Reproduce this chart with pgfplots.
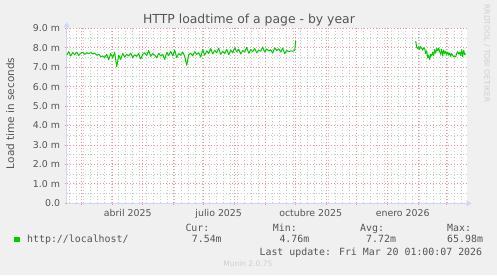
\documentclass[border=0pt]{standalone}
\usepackage{pgfplots}
\pgfplotsset{compat=1.18}
\usepackage{fontspec}
\setmainfont{DejaVu Sans}
\newfontfamily\mono{DejaVu Sans Mono}
\usetikzlibrary{arrows.meta}
\definecolor{bg}{HTML}{F0F0F0}
\definecolor{fontc}{HTML}{555555}
\definecolor{axisc}{HTML}{CFD6F8}
\definecolor{mgrid}{HTML}{E89A9A}
\definecolor{ngrid}{HTML}{C8C8C8}
\definecolor{linec}{HTML}{00CC00}
\definecolor{faint}{HTML}{CFCFCF}
\begin{document}
\begin{tikzpicture}[x=1bp,y=1bp]
\fill[bg] (0,0) rectangle (497,275);
\useasboundingbox (0,0) rectangle (497,275);
\fill[white] (66.7,71.7) rectangle (466.7,246.7);
\begin{axis}[
  at={(66.7bp,71.7bp)}, anchor=south west,
  scale only axis, width=400bp, height=175bp,
  xmin=0, xmax=400, ymin=0, ymax=9,
  axis lines=left,
  axis line style={draw=axisc, line width=1bp},
  x axis line style={-{Triangle[length=5bp,width=6bp]}, shorten >=-5bp},
  y axis line style={-{Triangle[length=5bp,width=6bp]}, shorten >=-6bp},
  tick align=outside,
  xtick={15,46,76,107,137,168,199,229,260,290,321,352,380},
  xticklabels={},
  minor xtick={3,10,...,399},
  ytick={0,1,...,9},
  yticklabels={0.0,1.0 m,2.0 m,3.0 m,4.0 m,5.0 m,6.0 m,7.0 m,8.0 m,9.0 m},
  minor ytick={0.5,1.5,...,8.5},
  grid=both,
  major grid style={draw=mgrid, line width=0.9bp, dash pattern=on 1bp off 2bp},
  minor grid style={draw=ngrid, line width=0.9bp, dash pattern=on 1bp off 2bp},
  major tick length=2bp, minor tick length=0bp,
  every major tick/.style={draw=mgrid, line width=0.9bp},
  tick label style={text=fontc, font=\fontsize{9.4bp}{11bp}\selectfont},
  yticklabel style={anchor=base east, inner sep=0pt, xshift=-4.5bp, yshift=-3.4bp},
  extra x ticks={61,152,244,336},
  extra x tick labels={abril 2025,julio 2025,octubre 2025,enero 2026},
  extra x tick style={grid=none, major tick length=0pt,
    xticklabel style={anchor=base, inner sep=0pt, yshift=-12.7bp}},
]
\addplot[linec, line width=1bp, line join=round, mark=none] coordinates {
(0,7.62)(2,7.80)(4,7.58)(6,7.75)(8,7.64)(10,7.78)(12,7.60)(14,7.72)(16,7.76)(18,7.66)
(20,7.74)(22,7.70)(24,7.76)(26,7.68)(28,7.72)(30,7.62)(32,7.66)(34,7.55)(36,7.58)(38,7.50)
(40,7.66)(42,7.38)(44,7.70)(46,7.48)(48,7.76)(50,7.02)(52,7.62)(54,7.40)(56,7.70)(58,7.52)
(60,7.66)(62,7.58)(64,7.72)(66,7.50)(68,7.64)(70,7.56)(72,7.70)(74,7.42)(76,7.66)(78,7.74)
(80,7.60)(82,7.86)(84,7.56)(86,7.70)(88,7.62)(90,7.48)(92,7.72)(94,7.58)(96,7.66)(98,7.40)
(100,7.76)(102,7.60)(104,7.82)(106,7.58)(108,7.88)(110,7.50)(112,7.70)(114,7.62)(116,7.78)(118,7.56)
(120,7.10)(122,7.64)(124,7.72)(126,7.58)(128,7.80)(130,7.66)(132,7.74)(134,7.52)(136,7.90)(138,7.62)
(140,7.84)(142,7.70)(144,7.96)(146,7.68)(148,7.86)(150,7.74)(152,7.98)(154,7.66)(156,7.82)(158,7.70)
(160,7.92)(162,7.64)(164,7.88)(166,7.74)(168,8.00)(170,7.80)(172,7.92)(174,7.68)(176,7.86)(178,7.78)
(180,8.02)(182,7.72)(184,7.90)(186,7.80)(188,7.96)(190,7.74)(192,7.88)(194,7.82)(196,8.04)(198,7.78)
(200,7.94)(202,7.84)(204,7.90)(206,7.72)(208,8.00)(210,7.86)(212,7.94)(214,7.78)(216,7.98)(218,7.70)
(220,7.86)(222,7.80)(224,7.84)(226,7.82)(228,7.86)(229,8.36)
};
\addplot[linec, line width=1bp, line join=round, mark=none] coordinates {
(349,8.34)(350,8.02)(351,7.96)(352,8.04)(353,7.92)(354,8.06)(355,7.98)(356,7.88)(357,8.00)(358,7.94)
(359,7.70)(360,7.84)(361,7.48)(362,7.62)(363,7.40)(364,7.66)(365,7.58)(366,7.78)(367,7.60)(368,7.90)
(369,7.72)(370,7.96)(371,7.86)(372,7.98)(373,7.80)(374,7.66)(375,7.92)(376,7.58)(377,7.88)(378,7.70)
(379,7.82)(380,7.66)(381,7.78)(382,7.62)(383,7.74)(384,7.56)(385,7.70)(386,7.60)(387,7.54)(388,7.56)
(389,7.54)(390,7.72)(391,7.80)(392,7.68)(393,7.76)(394,7.60)(395,7.90)(396,7.54)(397,7.86)(398,7.64)
(399,7.70)
};
\end{axis}
\node[anchor=base, text=fontc, inner sep=0pt, font=\fontsize{12.4bp}{14bp}\selectfont] at (249,251.7) {HTTP loadtime of a page - by year};
\node[anchor=base, rotate=90, text=fontc, inner sep=0pt, font=\fontsize{10.5bp}{12bp}\selectfont] at (14,161.7) {Load time in seconds};
\node[anchor=base, rotate=-90, text=faint, inner sep=0pt, font=\fontsize{7.6bp}{9bp}\selectfont] at (484.3,221.6) {RRDTOOL / TOBI OETIKER};
\fill[linec] (14,32.7) rectangle (20,38.3);
\begin{scope}[every node/.style={inner sep=0pt, text=fontc, font=\mono\fontsize{9.9bp}{12bp}\selectfont}]
\node[anchor=base west] at (27,32.3) {http://localhost/};
\node[anchor=base west] at (185.3,44) {Cur:};
\node[anchor=base west] at (191.7,32.3) {7.54m};
\node[anchor=base west] at (272.7,44) {Min:};
\node[anchor=base west] at (279.3,32.3) {4.76m};
\node[anchor=base west] at (360,44) {Avg:};
\node[anchor=base west] at (366,32.3) {7.72m};
\node[anchor=base west] at (447,44) {Max:};
\node[anchor=base west] at (447,32.3) {65.98m};
\node[anchor=base east] at (482.3,20) {Last update: Fri Mar 20 01:00:07 2026};
\end{scope}
\node[anchor=base, inner sep=0pt, text=faint, font=\fontsize{7.5bp}{9bp}\selectfont] at (247.8,8.3) {Munin 2.0.75};
\end{tikzpicture}
\end{document}
